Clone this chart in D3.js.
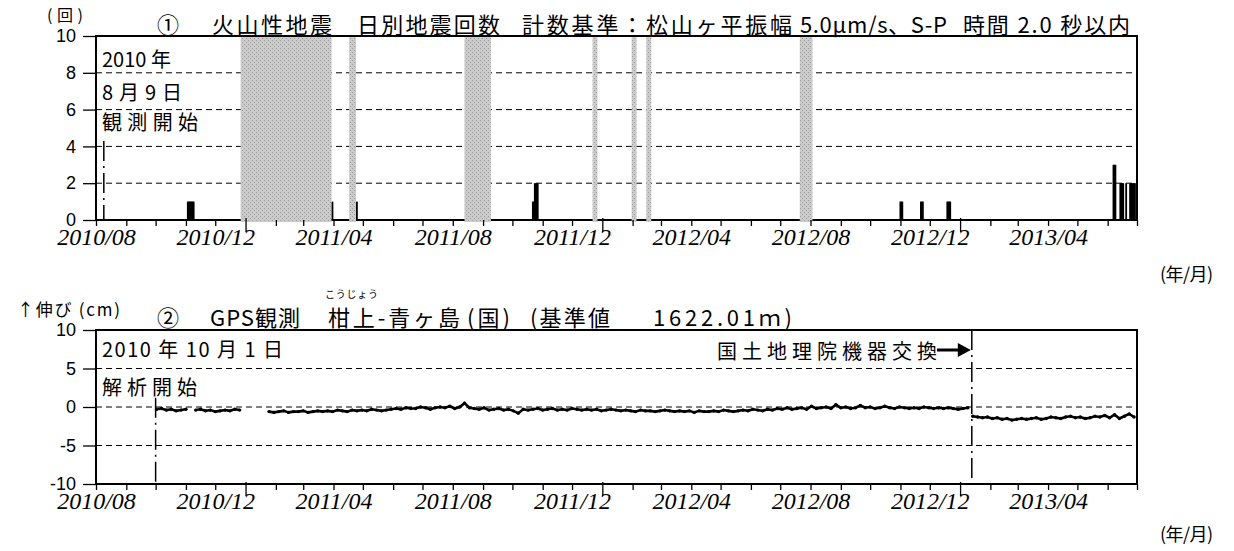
<!DOCTYPE html>
<html>
<head>
<meta charset="utf-8">
<script src="https://cdn.jsdelivr.net/npm/d3@7"></script>
<style>
body { margin: 0; background: #fff; }
svg { display: block; font-family: "Noto Sans CJK JP", sans-serif; }
</style>
</head>
<body>
<div id="chart"></div>
<script>
// ---- data ----
const xStart = "2010-08-01";
const xEnd = "2013-07-01";
const xLabels = ["2010/08", "2010/12", "2011/04", "2011/08", "2011/12", "2012/04", "2012/08", "2012/12", "2013/04"];

// panel 1: daily volcanic earthquake counts
const quakeTicks = [0, 2, 4, 6, 8, 10];
const quakeDays = [
    ["2010-11-02", 1], ["2010-11-03", 1], ["2010-11-04", 1], ["2010-11-05", 1], ["2010-11-06", 1], ["2010-11-07", 1], ["2010-11-08", 1],
    ["2011-03-30", 1], ["2011-04-24", 1],
    ["2011-10-21", 1], ["2011-10-22", 1], ["2011-10-23", 2], ["2011-10-24", 2], ["2011-10-25", 2], ["2011-10-26", 2],
    ["2012-10-31", 1], ["2012-11-01", 1], ["2012-11-02", 1],
    ["2012-11-21", 1], ["2012-11-22", 1], ["2012-11-23", 1],
    ["2012-12-18", 1], ["2012-12-19", 1], ["2012-12-20", 1], ["2012-12-21", 1],
    ["2013-06-06", 3], ["2013-06-07", 3], ["2013-06-08", 3],
    ["2013-06-13", 2], ["2013-06-14", 2], ["2013-06-15", 2], ["2013-06-16", 2],
    ["2013-06-19", 2],
    ["2013-06-23", 2], ["2013-06-24", 2], ["2013-06-25", 2], ["2013-06-26", 2], ["2013-06-27", 2], ["2013-06-28", 2]
];
// periods with no observation (grey)
const noDataPeriods = [
    ["2010-12-27", "2011-03-29"],
    ["2011-04-17", "2011-04-23"],
    ["2011-08-13", "2011-09-08"],
    ["2011-12-22", "2011-12-26"],
    ["2012-01-31", "2012-02-04"],
    ["2012-02-15", "2012-02-19"],
    ["2012-07-21", "2012-08-02"]
];
const obsStart = "2010-08-09";

// panel 2: GPS baseline change (cm), one value every 5 days
const gpsTicks = [-10, -5, 0, 5, 10];
const gpsStep = 5;
const gpsStart = "2010-10-02";
const gpsValues = [
    -0.3, -0.2, -0.4, -0.3, -0.5, -0.4, -0.3, null,
    -0.4, -0.3, -0.5, -0.4, -0.6, -0.5, -0.4, -0.5, -0.3, -0.4,
    null, null, null, null, null,
    -0.6, -0.7, -0.6, -0.5, -0.7, -0.6,
    -0.6, -0.5, -0.7, -0.6, -0.5, -0.6,
    -0.5, -0.6, -0.4, -0.5, -0.6, -0.4,
    -0.5, -0.4, -0.5, -0.3, -0.4, -0.5,
    -0.4, -0.3, -0.2, -0.3, -0.1, -0.2,
    -0.2, 0.0, -0.1, -0.3, -0.1, 0.0,
    -0.1, 0.1, -0.2, 0.0, 0.5, -0.1,
    -0.2, -0.3, -0.1, -0.4, -0.3, -0.2,
    -0.4, -0.3, -0.5, -0.8, -0.3, -0.4,
    -0.3, -0.2, -0.4, -0.3, -0.2, -0.4,
    -0.3, -0.4, -0.2, -0.3, -0.4, -0.3,
    -0.4, -0.3, -0.5, -0.4, -0.3, -0.4,
    -0.5, -0.4, -0.5, -0.6, -0.4, -0.5,
    -0.5, -0.6, -0.5, -0.4, -0.5, -0.6,
    -0.5, -0.6, -0.5, -0.7, -0.5, -0.6,
    -0.6, -0.5, -0.6, -0.4, -0.5, -0.6,
    -0.5, -0.4, -0.5, -0.3, -0.4, -0.5,
    -0.3, -0.4, -0.2, -0.3, -0.1, -0.3,
    -0.2, -0.1, -0.3, 0.1, -0.2, -0.1,
    0.0, -0.2, 0.3, -0.1, 0.0, -0.2,
    -0.1, 0.2, -0.1, 0.0, -0.2, -0.1,
    0.1, -0.1, -0.2, 0.0, -0.1, -0.2,
    -0.1, -0.2, 0.0, -0.1, -0.2, -0.1,
    -0.2, -0.1, -0.2, -0.3, -0.2, -0.1
];
// after the GSI equipment exchange
const gpsExchange = "2013-01-13";
const gpsStartAfter = "2013-01-14";
const gpsValuesAfter = [
    -1.2, -1.3, -1.4, -1.3, -1.5, -1.4,
    -1.6, -1.5, -1.7, -1.6, -1.5, -1.6,
    -1.5, -1.4, -1.6, -1.5, -1.3, -1.4,
    -1.5, -1.3, -1.2, -1.4, -1.3, -1.5,
    -1.4, -1.2, -1.3, -1.1, -1.4, -1.0, -1.5, -1.2, -0.9, -1.3
];
const gpsAnalysisStart = "2010-10-01";

// ---- setup ----
const width = 1234;
const height = 551;
const parse = d3.utcParse("%Y-%m-%d");
const fmt = d3.utcFormat("%Y/%m");

const svg = d3.select("#chart")
    .append("svg")
    .attr("width", width)
    .attr("height", height);

const x = d3.scaleUtc().domain([parse(xStart), parse(xEnd)]).range([96, 1137]);
const yQ = d3.scaleLinear().domain([0, 10]).range([220, 36]);
const yG = d3.scaleLinear().domain([-10, 10]).range([484, 330]);

// stipple pattern for missing periods
const pat = svg.append("defs").append("pattern")
    .attr("id", "stipple")
    .attr("width", 4).attr("height", 4)
    .attr("patternUnits", "userSpaceOnUse");
pat.append("rect").attr("width", 4).attr("height", 4).attr("fill", "#cbcbcb");
pat.append("rect").attr("width", 1).attr("height", 1).attr("fill", "#9a9a9a");
pat.append("rect").attr("x", 2).attr("y", 2).attr("width", 1).attr("height", 1).attr("fill", "#9a9a9a");

function label(txt, x0, y0, size, len, family) {
    const t = svg.append("text")
        .attr("x", x0).attr("y", y0)
        .attr("dominant-baseline", "central")
        .style("font-size", size + "px")
        .style("white-space", "pre")
        .attr("fill", "#000")
        .text(txt);
    if (len) t.attr("textLength", len).attr("lengthAdjust", "spacing");
    if (family) t.style("font-family", family);
    return t;
}

function xAxis(yBase) {
    const ax = d3.axisBottom(x)
        .tickValues(d3.utcMonth.range(parse(xStart), d3.utcDay.offset(parse(xEnd), 1)))
        .tickSize(6)
        .tickFormat(d => xLabels.includes(fmt(d)) ? fmt(d) : "");
    const g = svg.append("g").attr("transform", `translate(0,${yBase})`).call(ax);
    g.select(".domain").remove();
    g.selectAll(".tick line").attr("stroke", "#000").attr("stroke-width", 1.3)
        .filter(d => d.getUTCMonth() === 0).attr("y1", -2).attr("y2", 12);
    g.selectAll(".tick text")
        .attr("y", 25).attr("dy", null)
        .attr("fill", "#000")
        .style("font-family", "'Liberation Serif', serif")
        .style("font-style", "italic")
        .style("font-size", "24px");
}

function yAxis(scale, ticks) {
    const g = svg.append("g").attr("transform", "translate(96,0)")
        .call(d3.axisLeft(scale).tickValues(ticks).tickSize(13).tickPadding(7).tickFormat(d => String(d)));
    g.select(".domain").remove();
    g.selectAll(".tick line").attr("stroke", "#000").attr("stroke-width", 1.3);
    g.selectAll(".tick text")
        .attr("fill", "#000")
        .style("font-family", "'Liberation Sans', Arial, sans-serif")
        .style("font-size", "18px");
}

function grid(scale, vals) {
    svg.append("g").selectAll("line")
        .data(vals)
        .join("line")
        .attr("x1", 96).attr("x2", 1137)
        .attr("y1", d => scale(d)).attr("y2", d => scale(d))
        .attr("stroke", "#000").attr("stroke-width", 1)
        .attr("stroke-dasharray", "6,4");
}

function dashDot(date, y1, y2) {
    svg.append("line")
        .attr("x1", x(parse(date))).attr("x2", x(parse(date)))
        .attr("y1", y1).attr("y2", y2)
        .attr("stroke", "#000").attr("stroke-width", 1.5)
        .attr("stroke-dasharray", "20,5,2,5");
}

// ---- panel 1 ----
svg.append("line").attr("x1", 96).attr("x2", 1137).attr("y1", yQ(0)).attr("y2", yQ(0))
    .attr("stroke", "#000").attr("stroke-width", 2);
grid(yQ, [2, 4, 6, 8]);

svg.append("g").selectAll("rect")
    .data(noDataPeriods)
    .join("rect")
    .attr("x", d => x(parse(d[0])))
    .attr("width", d => x(d3.utcDay.offset(parse(d[1]), 1)) - x(parse(d[0])))
    .attr("y", yQ(10) + 1)
    .attr("height", yQ(0) - yQ(10) + 1)
    .attr("fill", "url(#stipple)");

svg.append("g").selectAll("rect")
    .data(quakeDays)
    .join("rect")
    .attr("x", d => x(parse(d[0])))
    .attr("width", d => Math.max(1.8, x(d3.utcDay.offset(parse(d[0]), 1)) - x(parse(d[0]))))
    .attr("y", d => yQ(d[1]))
    .attr("height", d => yQ(0) - yQ(d[1]))
    .attr("fill", "#000");

svg.append("path")
    .attr("d", `M96,${yQ(0)}V${yQ(10)}H1137V${yQ(0)}`)
    .attr("fill", "none").attr("stroke", "#000").attr("stroke-width", 2);

dashDot(obsStart, yQ(4.3), yQ(0));
yAxis(yQ, quakeTicks);
xAxis(yQ(0));

label("(回)", 47, 14, 16, 36);
label("①", 157, 23, 22);
label("火山性地震", 212, 23, 22, 120);
label("日別地震回数", 357, 23, 22, 143);
label("計数基準：松山ヶ平振幅", 522, 23, 22, 270);
label("5.0μm/s、S-P", 800, 23, 22, 147);
label("時間 2.0 秒以内", 963, 23, 22, 167);

label("2010 年", 102, 58, 20);
label("8 月 9 日", 102, 91, 20, 80);
label("観測開始", 102, 121, 20, 96);
label("(年/月)", 1160, 273, 18, 53);

// ---- panel 2 ----
grid(yG, [-5, 0, 5]);

const gpsPts = gpsValues.map((v, i) => ({ date: d3.utcDay.offset(parse(gpsStart), i * gpsStep), v }));
const gpsPtsAfter = gpsValuesAfter.map((v, i) => ({ date: d3.utcDay.offset(parse(gpsStartAfter), i * gpsStep), v }));
const gpsLine = d3.line()
    .defined(d => d.v != null)
    .x(d => x(d.date))
    .y(d => yG(d.v));

[gpsPts, gpsPtsAfter].forEach(pts => {
    svg.append("path")
        .datum(pts)
        .attr("d", gpsLine)
        .attr("fill", "none").attr("stroke", "#000").attr("stroke-width", 2.6);
    svg.append("g").selectAll("circle")
        .data(pts.filter(d => d.v != null))
        .join("circle")
        .attr("cx", d => x(d.date)).attr("cy", d => yG(d.v))
        .attr("r", 1.7).attr("fill", "#000");
});

svg.append("rect")
    .attr("x", 96).attr("y", yG(10))
    .attr("width", 1137 - 96).attr("height", yG(-10) - yG(10))
    .attr("fill", "none").attr("stroke", "#000").attr("stroke-width", 2);

dashDot(gpsAnalysisStart, yG(1.2), yG(-10));
dashDot(gpsExchange, yG(10), yG(-10));
yAxis(yG, gpsTicks);
xAxis(yG(-10));

label("こうじょう", 325, 293, 10, 53);
label("↑伸び (cm)", 17, 308, 17, 103);
label("②", 157, 316, 22);
label("GPS観測", 210, 316, 22, 90);
label("柑上-青ヶ島", 328, 316, 22, 132);
label("(国)", 467, 316, 22, 43);
label("(基準値", 530, 316, 22, 80);
label("1622.01ｍ)", 653, 316, 22, 139);

label("2010 年 10 月 1 日", 102, 348, 20, 181);
label("解析開始", 102, 386, 20, 95);
label("国土地理院機器交換", 717, 350, 20, 220);

// arrow pointing at the exchange line
const xEx = x(parse(gpsExchange));
svg.append("line").attr("x1", 937).attr("x2", xEx - 12).attr("y1", 350).attr("y2", 350)
    .attr("stroke", "#000").attr("stroke-width", 3);
svg.append("path")
    .attr("d", `M${xEx - 14},343L${xEx - 1},350L${xEx - 14},357Z`)
    .attr("fill", "#000");

label("(年/月)", 1160, 533, 18, 53);
</script>
</body>
</html>
